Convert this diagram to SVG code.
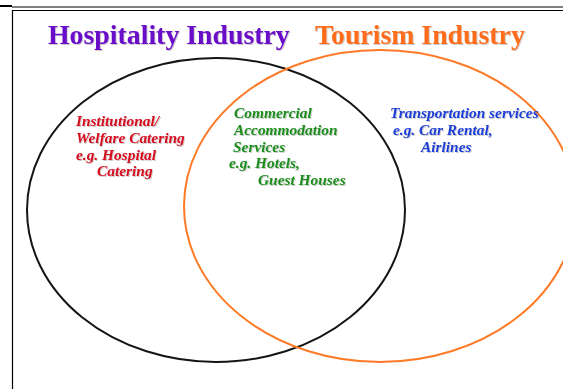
<svg xmlns="http://www.w3.org/2000/svg" width="563" height="389" viewBox="0 0 563 389">
  <style>
    .title { font-family: "Liberation Serif", "Times New Roman", serif; font-weight: bold; font-size: 27.8px; }
    .label { font-family: "Liberation Serif", "Times New Roman", serif; font-weight: bold; font-style: italic; font-size: 15.4px; }
    .ring { fill: none; stroke-width: 2; }
    .frame { stroke: #000; fill: none; }
  </style>
  <defs>
    <filter id="soft" x="-5%" y="-20%" width="110%" height="140%">
      <feGaussianBlur in="SourceAlpha" stdDeviation="0.7" result="b"/>
      <feOffset in="b" dx="0.7" dy="0.7" result="o"/>
      <feComponentTransfer in="o" result="s"><feFuncA type="linear" slope="0.2"/></feComponentTransfer>
      <feMerge><feMergeNode in="s"/><feMergeNode in="SourceGraphic"/></feMerge>
    </filter>
  </defs>
  <rect width="563" height="389" fill="#fff"/>

  <!-- page frame -->
  <g id="frame">
    <line class="frame" x1="0" y1="6" x2="12" y2="6" stroke-width="2"/>
    <line class="frame" x1="12" y1="7" x2="563" y2="7" stroke-width="1"/>
    <line class="frame" x1="12.5" y1="10" x2="12.5" y2="389" stroke-width="1.2"/>
    <line class="frame" x1="12" y1="10.5" x2="563" y2="10.5" stroke-width="1"/>
  </g>

  <!-- set circles -->
  <g id="hospitality">
    <ellipse class="ring" cx="216" cy="210" rx="189" ry="152" stroke="#151515"/>
    <text class="title" x="48" y="44" fill="#6a0cc8" filter="url(#soft)">Hospitality Industry</text>
  </g>
  <g id="tourism">
    <ellipse class="ring" cx="380" cy="206" rx="196" ry="156" stroke="#ff7a26"/>
    <text class="title" x="315" y="44" fill="#ff6d1a" filter="url(#soft)">Tourism Industry</text>
  </g>

  <!-- region labels -->
  <g id="institutional" class="label" fill="#d40a1e" filter="url(#soft)">
    <text x="76" y="126">Institutional/</text>
    <text x="76" y="143">Welfare Catering</text>
    <text x="76" y="160">e.g. Hospital</text>
    <text x="97" y="176">Catering</text>
  </g>
  <g id="commercial" class="label" fill="#1d8c1d" filter="url(#soft)">
    <text x="234" y="118">Commercial</text>
    <text x="234" y="135">Accommodation</text>
    <text x="233" y="152">Services</text>
    <text x="229" y="168">e.g. Hotels,</text>
    <text x="258" y="185">Guest Houses</text>
  </g>
  <g id="transportation" class="label" fill="#1f3ed6" filter="url(#soft)">
    <text x="390" y="118">Transportation services</text>
    <text x="393" y="135">e.g. Car Rental,</text>
    <text x="421" y="152">Airlines</text>
  </g>

  <g id="connectors"/>
</svg>
